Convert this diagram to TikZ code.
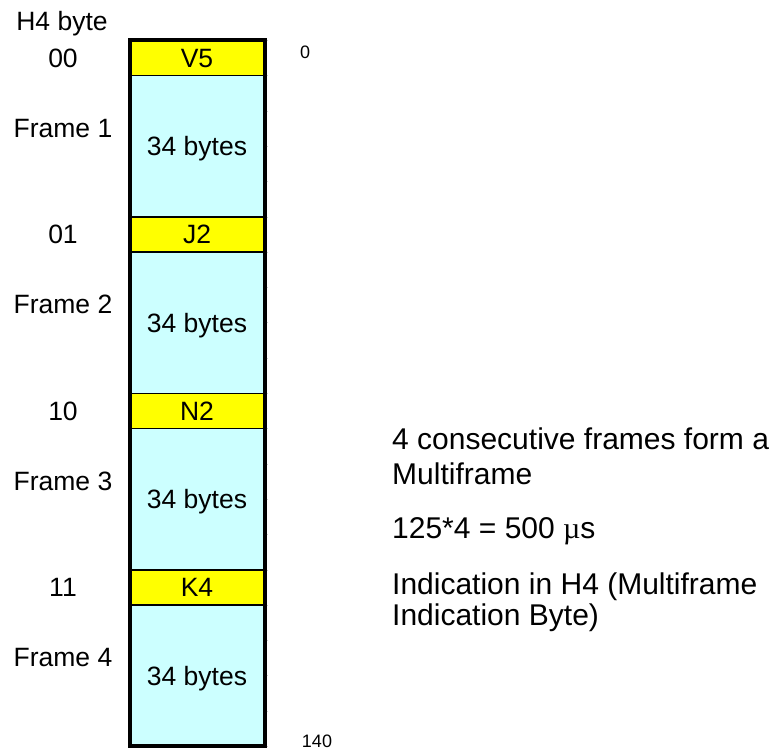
\documentclass[tikz,border=0pt]{standalone}
\usepackage{fontspec}
\setmainfont{Liberation Sans}
\newfontfamily\mufont{Liberation Serif}
\definecolor{ohyellow}{HTML}{FFFF00}
\definecolor{paycyan}{HTML}{CCFFFF}

\begin{document}
\begin{tikzpicture}[x=1pt,y=-1pt]
\tikzset{
  lbl/.style={inner sep=0pt,text height=19pt,text depth=0pt,font=\fontsize{26.5}{30}\selectfont},
  scalelbl/.style={inner sep=0pt,text height=12.9pt,text depth=0pt,font=\fontsize{18}{22}\selectfont},
  note/.style={inner sep=0pt,anchor=base west,font=\fontsize{30}{36}\selectfont},
  ovhbox/.style={fill=ohyellow,draw=black,line width=1.5pt},
  paybox/.style={fill=paycyan,draw=black,line width=1.5pt}
}
\useasboundingbox (0,0) rectangle (778,752);
% column of four frames
\node[lbl] (h4) at (62,21) {H4 byte};
\foreach \lab/\code [count=\n] in {V5/00,J2/01,N2/10,K4/11} {
  \pgfmathsetmacro\ytop{40.3+176.5*(\n-1)}
  \path[ovhbox] (129.7,\ytop) rectangle (264.5,\ytop+35.3);
  \path[paybox] (129.7,\ytop+35.3) rectangle (264.5,\ytop+176.5);
  \node[lbl] (oh\n) at (197,\ytop+17.6) {\lab};
  \node[lbl] (pay\n) at (197,\ytop+105.9) {34 bytes};
  \node[lbl] (code\n) at (63,\ytop+17.6) {\code};
  \node[lbl] (frame\n) at (63,\ytop+87.4) {Frame \n};
}
\draw[black,line width=4pt] (129.7,40.3) rectangle (264.5,746.3);
% ruler ticks
\foreach \t in {0,...,20}
  \draw[gray!40,line width=0.6pt] (266.5,40.3+35.3*\t) -- (268,40.3+35.3*\t);
\node[scalelbl] (top) at (305,52) {0};
\node[scalelbl] (bottom) at (317,741) {140};
% notes
\node[note] (note1) at (392,449) {4 consecutive frames form a};
\node[note] (note2) at (392,484) {Multiframe};
\node[note] (note3) at (392,538) {125*4 = 500 {\mufont µ}s};
\node[note] (note4) at (392,594) {Indication in H4 (Multiframe};
\node[note] (note5) at (392,625) {Indication Byte)};
\end{tikzpicture}
\end{document}
